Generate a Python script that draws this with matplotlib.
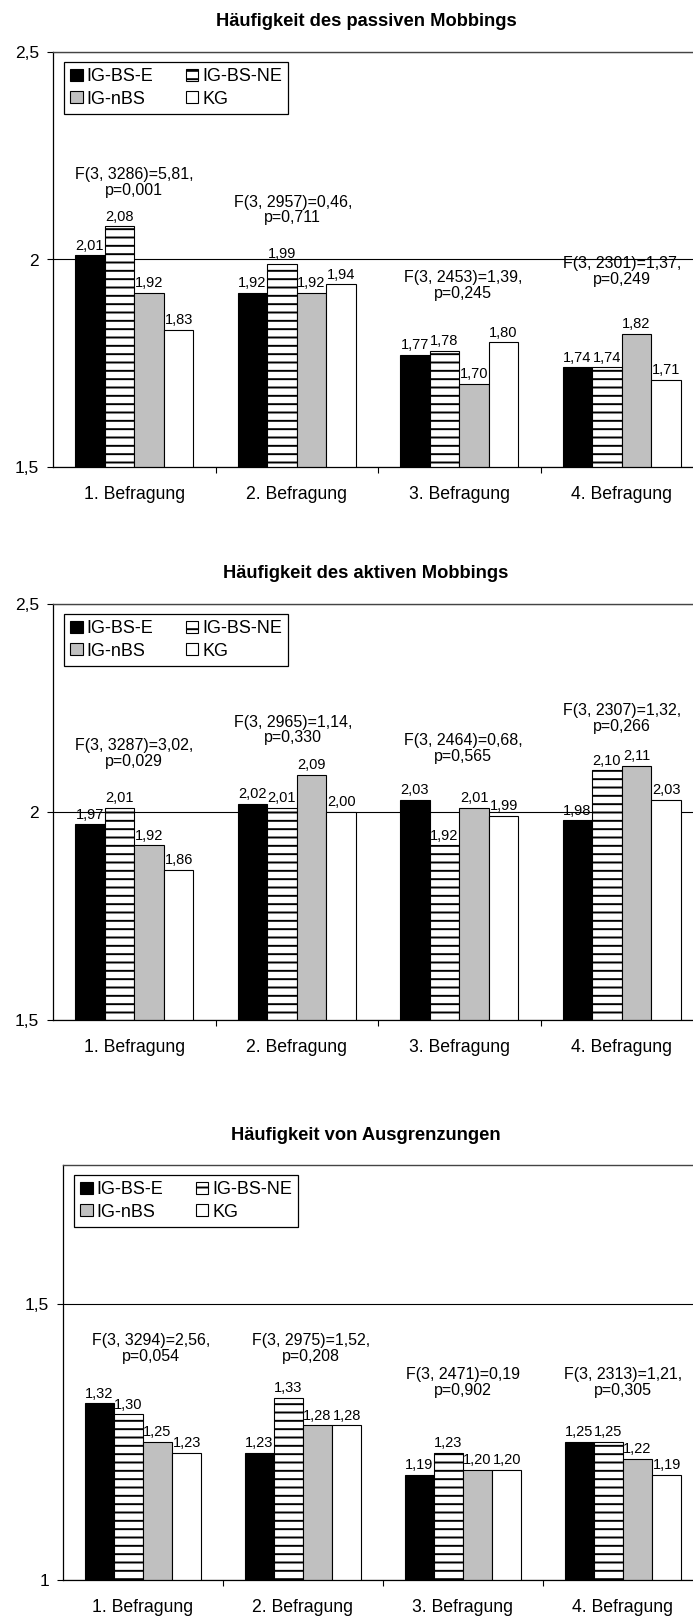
import numpy as np
import matplotlib
matplotlib.use('Agg')
from matplotlib import pyplot as plt
from matplotlib.ticker import FuncFormatter, FixedLocator, MultipleLocator

plt.rcParams['font.family'] = ['Liberation Sans', 'DejaVu Sans']
plt.rcParams['hatch.linewidth'] = 1.4

categories = ['1. Befragung', '2. Befragung', '3. Befragung', '4. Befragung']
groups = ['IG-BS-E', 'IG-BS-NE', 'IG-nBS', 'KG']

# Häufigkeit des passiven Mobbings
passiv_e = [2.01, 1.92, 1.77, 1.74]
passiv_ne = [2.08, 1.99, 1.78, 1.74]
passiv_nbs = [1.92, 1.92, 1.70, 1.82]
passiv_kg = [1.83, 1.94, 1.80, 1.71]
passiv_stats = ['F(3, 3286)=5,81,\np=0,001', 'F(3, 2957)=0,46,\np=0,711',
                'F(3, 2453)=1,39,\np=0,245', 'F(3, 2301)=1,37,\np=0,249']

# Häufigkeit des aktiven Mobbings
aktiv_e = [1.97, 2.02, 2.03, 1.98]
aktiv_ne = [2.01, 2.01, 1.92, 2.10]
aktiv_nbs = [1.92, 2.09, 2.01, 2.11]
aktiv_kg = [1.86, 2.00, 1.99, 2.03]
aktiv_stats = ['F(3, 3287)=3,02,\np=0,029', 'F(3, 2965)=1,14,\np=0,330',
               'F(3, 2464)=0,68,\np=0,565', 'F(3, 2307)=1,32,\np=0,266']

# Häufigkeit von Ausgrenzungen
ausgr_e = [1.32, 1.23, 1.19, 1.25]
ausgr_ne = [1.30, 1.33, 1.23, 1.25]
ausgr_nbs = [1.25, 1.28, 1.20, 1.22]
ausgr_kg = [1.23, 1.28, 1.20, 1.19]
ausgr_stats = ['F(3, 3294)=2,56,\np=0,054', 'F(3, 2975)=1,52,\np=0,208',
               'F(3, 2471)=0,19\np=0,902', 'F(3, 2313)=1,21,\np=0,305']

# layout: axes box in figure pixels, where the stats text sits (data units)
W, H = 693, 1619
panels = [
    dict(title='Häufigkeit des passiven Mobbings', series=[passiv_e, passiv_ne, passiv_nbs, passiv_kg],
         stats=passiv_stats, stat_y=[2.186, 2.119, 1.938, 1.971], stat_dx=[0, -0.025, 0.025, 0],
         ylim=(1.5, 2.5), box=(53, 52, 650, 415), title_y=21),
    dict(title='Häufigkeit des aktiven Mobbings', series=[aktiv_e, aktiv_ne, aktiv_nbs, aktiv_kg],
         stats=aktiv_stats, stat_y=[2.141, 2.197, 2.153, 2.225], stat_dx=[0, -0.025, 0.025, 0],
         ylim=(1.5, 2.5), box=(53, 604, 650, 416), title_y=574),
    dict(title='Häufigkeit von Ausgrenzungen', series=[ausgr_e, ausgr_ne, ausgr_nbs, ausgr_kg],
         stats=ausgr_stats, stat_y=[1.419, 1.419, 1.358, 1.358], stat_dx=[0.05, 0.05, 0, 0],
         ylim=(1.0, 1.752), box=(63, 1165, 640, 415), title_y=1135),
]

colors = ['black', 'white', '#c0c0c0', 'white']
hatches = [None, '--', None, None]
bar_w = 0.182


def comma(v, pos=None):
    return f'{v:g}'.replace('.', ',')


fig = plt.figure(figsize=(W / 100, H / 100), dpi=100)
x = np.arange(1, len(categories) + 1)

for p in panels:
    left, top, w, h = p['box']
    ax = fig.add_axes([left / W, 1 - (top + h) / H, w / W, h / H])
    for i, vals in enumerate(p['series']):
        bars = ax.bar(x + (i - 1.5) * bar_w, vals, bar_w, color=colors[i],
                      hatch=hatches[i], edgecolor='black', linewidth=0.8, label=groups[i], zorder=2)
        ax.bar_label(bars, labels=[f'{v:.2f}'.replace('.', ',') for v in vals],
                     padding=2, fontsize=10.5, zorder=3)
    for xi, dx, txt, yi in zip(x, p['stat_dx'], p['stats'], p['stat_y']):
        ax.text(xi + dx, yi, txt, ha='center', va='center', fontsize=11.5,
                linespacing=1.05, zorder=4)

    ax.set_xlim(0.5, 4.5)
    ax.set_ylim(*p['ylim'])
    ax.yaxis.set_major_locator(MultipleLocator(0.5))
    ax.yaxis.set_major_formatter(FuncFormatter(comma))
    ax.set_xticks([1.5, 2.5, 3.5])
    ax.set_xticklabels([])
    ax.xaxis.set_minor_locator(FixedLocator(x))
    ax.set_xticklabels(categories, minor=True)
    ax.tick_params(axis='x', which='minor', length=0, pad=14, labelsize=12.7)
    ax.tick_params(axis='x', which='major', length=4, width=0.8, direction='out')
    ax.tick_params(axis='y', length=4, width=0.8, direction='out', pad=6, labelsize=12.5)
    ax.grid(axis='y', color='black', linewidth=0.8)
    ax.set_axisbelow(True)
    for s in ['left', 'bottom']:
        ax.spines[s].set_linewidth(0.9)
    ax.spines['top'].set_color('#444444')
    ax.spines['top'].set_linewidth(1.0)
    ax.spines['right'].set_visible(False)

    handles, labels = ax.get_legend_handles_labels()
    order = [0, 2, 1, 3]
    leg = ax.legend([handles[k] for k in order], [labels[k] for k in order], ncol=2,
                    loc='upper left', bbox_to_anchor=(11 / w, 1 - 10 / h), borderaxespad=0,
                    fontsize=13, handlelength=0.7, handleheight=0.65, handletextpad=0.2,
                    columnspacing=1.8, labelspacing=0.3, borderpad=0.35,
                    fancybox=False, frameon=True, edgecolor='black', framealpha=1)
    leg.get_frame().set_linewidth(0.9)

    fig.text(366 / W, 1 - p['title_y'] / H, p['title'], ha='center', va='center',
             fontsize=13.2, fontweight='bold')

plt.savefig('out.png', dpi=100)
